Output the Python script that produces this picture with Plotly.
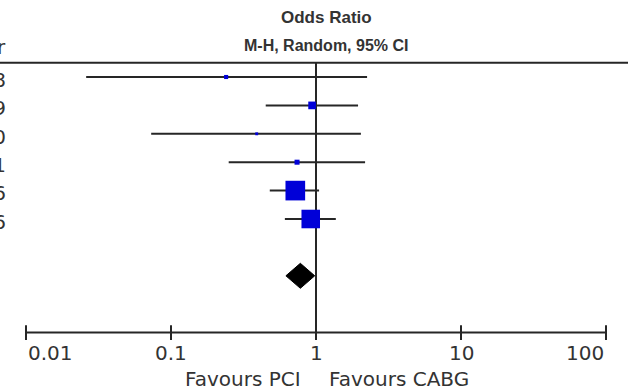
import numpy as np
import plotly.graph_objects as go

# Study rows (year column) and odds ratios with 95% CI, M-H random effects
years = ["2008", "2009", "2010", "2011", "2016", "2016"]
odds_ratio = [0.24, 0.94, 0.39, 0.74, 0.72, 0.92]
ci_lower = [0.026, 0.45, 0.073, 0.25, 0.48, 0.61]
ci_upper = [2.25, 1.95, 2.04, 2.18, 1.05, 1.37]
weights = [2.0, 7.0, 1.0, 3.0, 46.0, 41.0]

# Pooled estimate
pooled_or = 0.78
pooled_lower = 0.62
pooled_upper = 0.98

# Axis ticks
tick_values = [0.01, 0.1, 1, 10, 100]
tick_labels = ["0.01", "0.1", "1", "10", "100"]

W, H = 634, 386
rows = list(range(1, len(years) + 1))
pooled_row = 8
axis_row = 10
top_row = 0.5

LINE = "#262626"
TEXT = "#333333"
BLUE = "#0000D8"
FONT = "DejaVu Sans"
HEAD_FONT = "Liberation Sans, Arial, sans-serif"

fig = go.Figure()

# Confidence interval whiskers
for r, lo, hi in zip(rows, ci_lower, ci_upper):
    fig.add_trace(go.Scatter(x=[lo, hi], y=[r, r], mode="lines",
                             line=dict(color=LINE, width=2), hoverinfo="skip"))

# Line of no effect
fig.add_trace(go.Scatter(x=[1, 1], y=[top_row, axis_row], mode="lines",
                         line=dict(color=LINE, width=2), hoverinfo="skip"))

# Study point estimates, square area by weight
fig.add_trace(go.Scatter(
    x=odds_ratio, y=rows, mode="markers",
    marker=dict(symbol="square", color=BLUE, opacity=1,
                size=[2.9 * np.sqrt(w) for w in weights],
                line=dict(width=0)),
    hoverinfo="skip"))

# Pooled diamond
half = 0.44
fig.add_trace(go.Scatter(
    x=[pooled_lower, pooled_or, pooled_upper, pooled_or, pooled_lower],
    y=[pooled_row, pooled_row - half, pooled_row, pooled_row + half, pooled_row],
    mode="lines", fill="toself", fillcolor="black",
    line=dict(color="black", width=1), hoverinfo="skip"))

# Bottom scale line with crossing tick marks
fig.add_trace(go.Scatter(x=[tick_values[0], tick_values[-1]], y=[axis_row, axis_row],
                         mode="lines", line=dict(color=LINE, width=2), hoverinfo="skip"))
for t in tick_values:
    fig.add_trace(go.Scatter(x=[t, t], y=[axis_row - 0.26, axis_row + 0.26],
                             mode="lines", line=dict(color=LINE, width=2),
                             hoverinfo="skip"))

annotations = []
anchors = ["left", "center", "center", "center", "right"]
for t, lab, a in zip(tick_values, tick_labels, anchors):
    annotations.append(dict(x=np.log10(t), y=10.72, xref="x", yref="y",
                            text=lab, showarrow=False, xanchor=a, yanchor="middle",
                            font=dict(family=FONT, size=20, color=TEXT)))

# Year column (right-aligned)
annotations.append(dict(x=8 / W, y=1 - 47 / H, xref="paper", yref="paper",
                        text="Year", showarrow=False, xanchor="right", yanchor="middle",
                        font=dict(family=FONT, size=20, color=TEXT)))
for r, yr in zip(rows, years):
    annotations.append(dict(x=8 / W, y=r + 0.1, xref="paper", yref="y",
                            text=yr, showarrow=False, xanchor="right", yanchor="middle",
                            font=dict(family=FONT, size=20, color=TEXT)))

# Column header
annotations.append(dict(x=326 / W, y=1 - 17 / H, xref="paper", yref="paper",
                        text="<b>Odds Ratio</b>", showarrow=False,
                        xanchor="center", yanchor="middle",
                        font=dict(family=HEAD_FONT, size=17, color=TEXT)))
annotations.append(dict(x=326 / W, y=1 - 46 / H, xref="paper", yref="paper",
                        text="<b>M-H, Random, 95% CI</b>", showarrow=False,
                        xanchor="center", yanchor="middle",
                        font=dict(family=HEAD_FONT, size=16, color=TEXT)))

# Direction labels
annotations.append(dict(x=np.log10(1) - 0.09, y=1 - 379 / H, xref="x", yref="paper",
                        text="Favours PCI", showarrow=False,
                        xanchor="right", yanchor="middle",
                        font=dict(family=FONT, size=20, color=TEXT)))
annotations.append(dict(x=np.log10(1) + 0.075, y=1 - 379 / H, xref="x", yref="paper",
                        text="Favours CABG", showarrow=False,
                        xanchor="left", yanchor="middle",
                        font=dict(family=FONT, size=20, color=TEXT)))

fig.update_layout(
    width=W, height=H,
    margin=dict(l=0, r=0, t=0, b=0),
    paper_bgcolor="white", plot_bgcolor="white",
    showlegend=False,
    annotations=annotations,
    shapes=[dict(type="line", xref="paper", yref="y", x0=0, x1=628 / W,
                 y0=top_row, y1=top_row, line=dict(color=LINE, width=2))],
    xaxis=dict(type="log", range=[-316 / 145, 318 / 145], visible=False,
               showgrid=False, zeroline=False, fixedrange=True),
    yaxis=dict(range=[1 + (H - 77) / 28.4, 1 - 77 / 28.4], visible=False,
               showgrid=False, zeroline=False, fixedrange=True),
)

fig.write_html("out.html")
